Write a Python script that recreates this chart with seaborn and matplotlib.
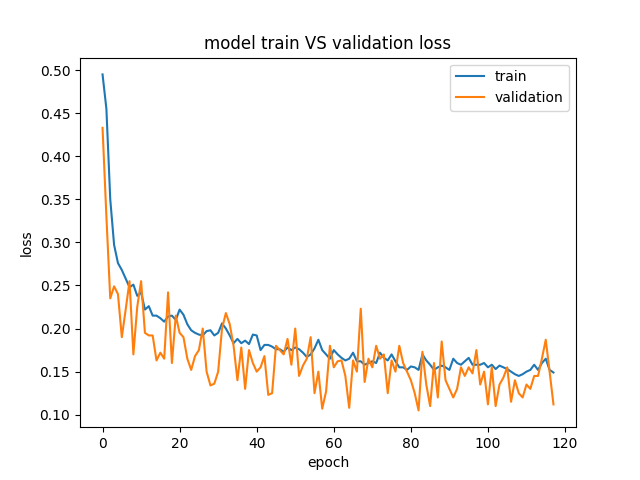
import matplotlib
matplotlib.use("Agg")
import matplotlib.pyplot as plt
import seaborn as sns
import numpy as np

# loss values, one per epoch (0..117)
train_loss = [
    0.495, 0.455, 0.350, 0.297, 0.276, 0.268, 0.258, 0.248, 0.251, 0.238,
    0.242, 0.222, 0.226, 0.215, 0.215, 0.212, 0.208, 0.214, 0.215, 0.210,
    0.222, 0.216, 0.205, 0.198, 0.195, 0.193, 0.192, 0.197, 0.198, 0.192,
    0.195, 0.206, 0.200, 0.192, 0.183, 0.188, 0.183, 0.186, 0.182, 0.193,
    0.192, 0.175, 0.181, 0.181, 0.179, 0.176, 0.176, 0.173, 0.178, 0.175,
    0.178, 0.176, 0.172, 0.167, 0.170, 0.177, 0.187, 0.175, 0.170, 0.165,
    0.175, 0.170, 0.166, 0.163, 0.165, 0.172, 0.162, 0.162, 0.158, 0.160,
    0.162, 0.160, 0.172, 0.166, 0.163, 0.170, 0.162, 0.155, 0.155, 0.152,
    0.156, 0.155, 0.152, 0.170, 0.163, 0.158, 0.152, 0.155, 0.157, 0.155,
    0.152, 0.165, 0.160, 0.158, 0.162, 0.166, 0.158, 0.158, 0.158, 0.160,
    0.155, 0.158, 0.153, 0.157, 0.155, 0.153, 0.150, 0.147, 0.145, 0.147,
    0.150, 0.152, 0.158, 0.152, 0.160, 0.165, 0.152, 0.149,
]
val_loss = [
    0.433, 0.330, 0.235, 0.249, 0.240, 0.190, 0.222, 0.255, 0.170, 0.225,
    0.255, 0.195, 0.192, 0.192, 0.163, 0.172, 0.165, 0.242, 0.160, 0.215,
    0.195, 0.190, 0.165, 0.152, 0.168, 0.175, 0.200, 0.150, 0.134, 0.136,
    0.150, 0.200, 0.218, 0.205, 0.180, 0.140, 0.178, 0.130, 0.175, 0.160,
    0.150, 0.155, 0.168, 0.123, 0.125, 0.180, 0.175, 0.170, 0.188, 0.158,
    0.200, 0.145, 0.157, 0.165, 0.190, 0.125, 0.150, 0.107, 0.127, 0.180,
    0.155, 0.162, 0.163, 0.145, 0.108, 0.163, 0.150, 0.223, 0.138, 0.165,
    0.155, 0.180, 0.165, 0.170, 0.125, 0.163, 0.150, 0.180, 0.160, 0.150,
    0.140, 0.125, 0.105, 0.173, 0.135, 0.110, 0.160, 0.120, 0.185, 0.140,
    0.130, 0.120, 0.130, 0.155, 0.145, 0.155, 0.148, 0.175, 0.135, 0.150,
    0.112, 0.155, 0.110, 0.135, 0.143, 0.155, 0.115, 0.140, 0.125, 0.120,
    0.135, 0.130, 0.145, 0.145, 0.165, 0.187, 0.150, 0.112,
]
epochs = np.arange(len(train_loss))

fig, ax = plt.subplots(figsize=(6.4, 4.8), dpi=100)
sns.lineplot(x=epochs, y=train_loss, ax=ax, color="#1f77b4", label="train")
sns.lineplot(x=epochs, y=val_loss, ax=ax, color="#ff7f0e", label="validation")

ax.set_title("model train VS validation loss")
ax.set_xlabel("epoch")
ax.set_ylabel("loss")
ax.legend(loc="upper right")

plt.savefig("out.png", dpi=100)
